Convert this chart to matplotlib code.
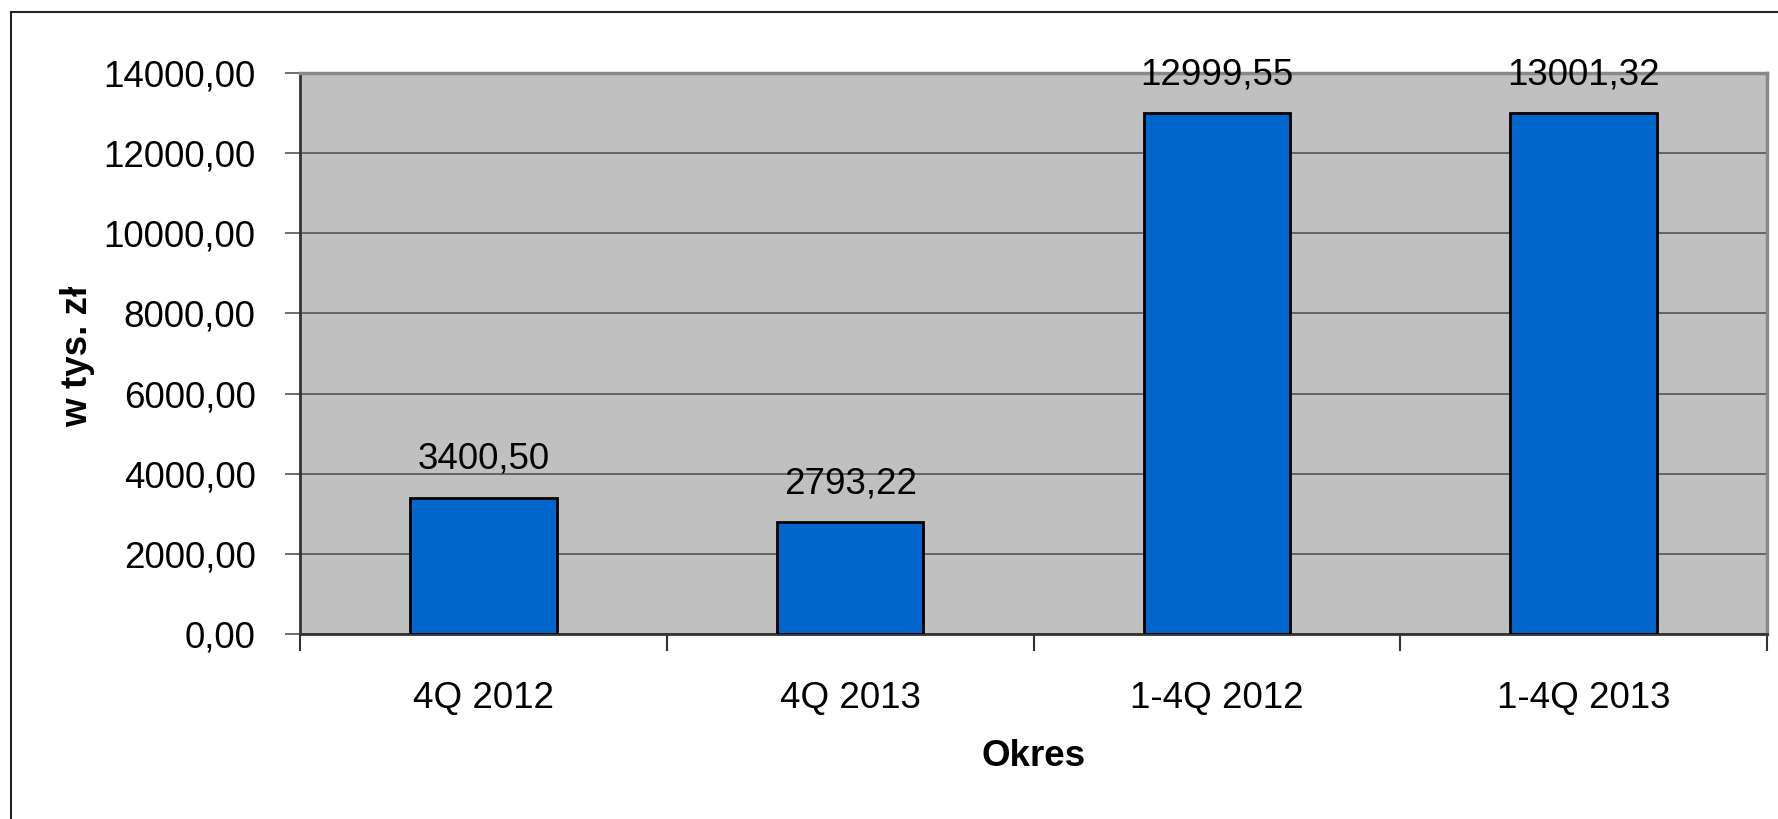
import matplotlib
matplotlib.use("Agg")
from matplotlib import pyplot as plt
from matplotlib.patches import Rectangle
import numpy as np

# data
categories = ["4Q 2012", "4Q 2013", "1-4Q 2012", "1-4Q 2013"]
values = [3400.50, 2793.22, 12999.55, 13001.32]
yticks = [0, 2000, 4000, 6000, 8000, 10000, 12000, 14000]

W, H = 1778, 819
plt.rcParams['font.family'] = ['Liberation Sans', 'DejaVu Sans']
fs = 26.5

fig = plt.figure(figsize=(W / 100, H / 100), dpi=100)
ax = fig.add_axes([300 / W, 1 - 634 / H, 1467 / W, 561 / H])
ax.set_facecolor('#C0C0C0')

# outer frame (only top and left visible, cropped on the other sides)
fig.patches.append(Rectangle((11 / W, -0.05), 1.2, 1 - 12 / H + 0.05,
                             transform=fig.transFigure, fill=False,
                             edgecolor='#222222', linewidth=1.5))

x = np.arange(len(categories))
ax.bar(x, values, width=0.40, color='#0066CC', edgecolor='black',
       linewidth=2, zorder=3)

ax.set_xlim(-0.5, len(categories) - 0.5)
ax.set_ylim(0, 14000)

ax.set_yticks(yticks)
ax.set_yticklabels(["%d,00" % v for v in yticks], fontsize=fs)
ax.yaxis.grid(True, color='#555555', linewidth=1.2, zorder=1)
ax.set_axisbelow(True)
ax.tick_params(axis='y', length=11, width=1.2, color='#555555', pad=21)

ax.set_xticks(x)
ax.set_xticklabels(categories, fontsize=fs)
ax.tick_params(axis='x', which='major', length=0, pad=34)
ax.set_xticks(np.arange(len(categories) + 1) - 0.5, minor=True)
ax.tick_params(axis='x', which='minor', length=12, width=1.5, color='#333333')

for side in ['left', 'bottom']:
    ax.spines[side].set_color('#333333')
    ax.spines[side].set_linewidth(2)
for side in ['top', 'right']:
    ax.spines[side].set_color('#888888')
    ax.spines[side].set_linewidth(2.5)

for xi, v in zip(x, values):
    ax.annotate(("%.2f" % v).replace('.', ','), (xi, v), xytext=(0, 29),
                textcoords='offset pixels', ha='center', va='baseline',
                fontsize=fs, zorder=4)

fig.text(78 / W, 1 - 356 / H, "w tys. zł", rotation=90, ha='center',
         va='center', fontsize=fs, fontweight='bold')
fig.text(1034 / W, 1 - 757 / H, "Okres", ha='center', va='center',
         fontsize=fs, fontweight='bold')

fig.savefig("out.png", dpi=100)
